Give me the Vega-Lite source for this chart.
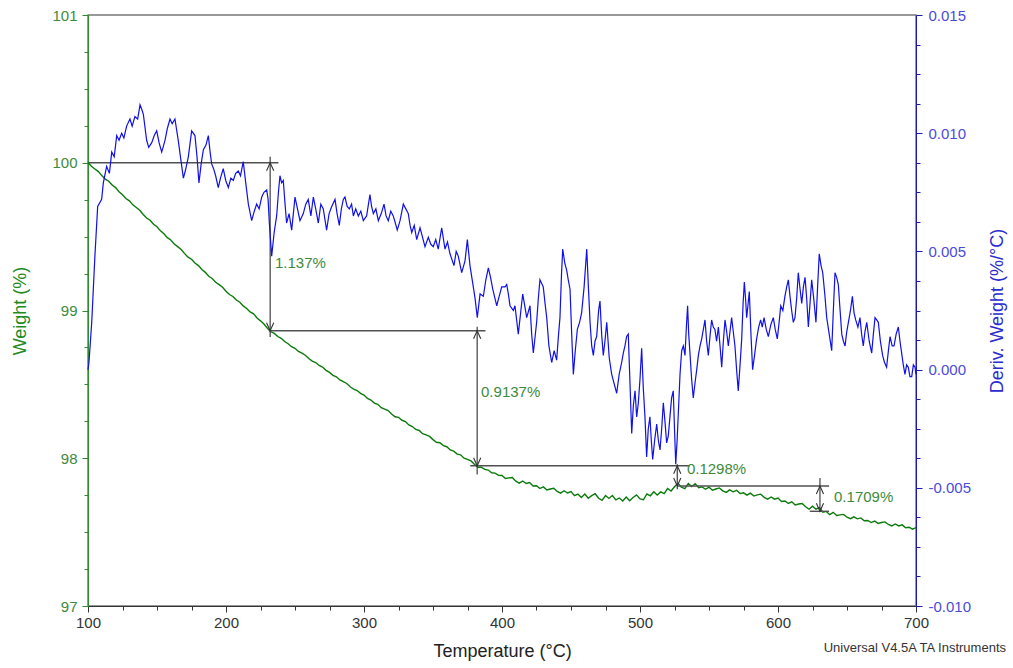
{
"$schema": "https://vega.github.io/schema/vega-lite/v6.json",
"width": 828, "height": 591,
"autosize": {"type": "none"},
"padding": {"left": 88, "top": 15, "right": 97, "bottom": 62},
"background": "white",
"config": {"font": "Liberation Sans", "view": {"stroke": "#777", "strokeWidth": 1.5}},
"title": {"text": "Universal V4.5A TA Instruments", "orient": "bottom", "anchor": "end", "frame": "group", "fontSize": 13, "fontWeight": "normal", "color": "#333", "dx": 90, "dy": -22},
"datasets": {
"tga": [
{"t":100,"w":100.002},{"t":102.5,"w":99.976},{"t":105,"w":99.958},{"t":107.5,"w":99.94},{"t":110,"w":99.913},{"t":112.5,"w":99.889},{"t":115,"w":99.875},{"t":117.5,"w":99.849},{"t":120,"w":99.832},{"t":122.5,"w":99.804},{"t":125,"w":99.784},{"t":127.5,"w":99.758},
{"t":130,"w":99.742},{"t":132.5,"w":99.715},{"t":135,"w":99.697},{"t":137.5,"w":99.678},{"t":140,"w":99.65},{"t":142.5,"w":99.626},{"t":145,"w":99.611},{"t":147.5,"w":99.584},{"t":150,"w":99.567},{"t":152.5,"w":99.539},{"t":155,"w":99.519},{"t":157.5,"w":99.493},
{"t":160,"w":99.477},{"t":162.5,"w":99.45},{"t":165,"w":99.432},{"t":167.5,"w":99.413},{"t":170,"w":99.385},{"t":172.5,"w":99.361},{"t":175,"w":99.347},{"t":177.5,"w":99.321},{"t":180,"w":99.304},{"t":182.5,"w":99.277},{"t":185,"w":99.258},{"t":187.5,"w":99.232},
{"t":190,"w":99.217},{"t":192.5,"w":99.191},{"t":195,"w":99.175},{"t":197.5,"w":99.157},{"t":200,"w":99.13},{"t":202.5,"w":99.108},{"t":205,"w":99.095},{"t":207.5,"w":99.071},{"t":210,"w":99.056},{"t":212.5,"w":99.031},{"t":215,"w":99.014},{"t":217.5,"w":98.99},
{"t":220,"w":98.977},{"t":222.5,"w":98.949},{"t":225,"w":98.93},{"t":227.5,"w":98.909},{"t":230,"w":98.88},{"t":232.5,"w":98.856},{"t":235,"w":98.845},{"t":237.5,"w":98.824},{"t":240,"w":98.812},{"t":242.5,"w":98.79},{"t":245,"w":98.775},{"t":247.5,"w":98.755},
{"t":250,"w":98.744},{"t":252.5,"w":98.723},{"t":255,"w":98.711},{"t":257.5,"w":98.697},{"t":260,"w":98.675},{"t":262.5,"w":98.657},{"t":265,"w":98.648},{"t":267.5,"w":98.628},{"t":270,"w":98.617},{"t":272.5,"w":98.595},{"t":275,"w":98.581},{"t":277.5,"w":98.561},
{"t":280,"w":98.551},{"t":282.5,"w":98.53},{"t":285,"w":98.519},{"t":287.5,"w":98.506},{"t":290,"w":98.484},{"t":292.5,"w":98.467},{"t":295,"w":98.458},{"t":297.5,"w":98.439},{"t":300,"w":98.428},{"t":302.5,"w":98.405},{"t":305,"w":98.394},{"t":307.5,"w":98.373},
{"t":310,"w":98.365},{"t":312.5,"w":98.342},{"t":315,"w":98.333},{"t":317.5,"w":98.323},{"t":320,"w":98.3},{"t":322.5,"w":98.281},{"t":325,"w":98.277},{"t":327.5,"w":98.257},{"t":330,"w":98.248},{"t":332.5,"w":98.225},{"t":335,"w":98.215},{"t":337.5,"w":98.195},
{"t":340,"w":98.188},{"t":342.5,"w":98.166},{"t":345,"w":98.158},{"t":347.5,"w":98.148},{"t":350,"w":98.126},{"t":352.5,"w":98.108},{"t":355,"w":98.105},{"t":357.5,"w":98.086},{"t":360,"w":98.078},{"t":362.5,"w":98.056},{"t":365,"w":98.048},{"t":367.5,"w":98.028},
{"t":370,"w":98.023},{"t":372.5,"w":98.0},{"t":375,"w":97.992},{"t":377.5,"w":97.982},{"t":380,"w":97.959},{"t":382.5,"w":97.939},{"t":385,"w":97.94},{"t":387.5,"w":97.925},{"t":390,"w":97.92},{"t":392.5,"w":97.902},{"t":395,"w":97.899},{"t":397.5,"w":97.884},
{"t":400,"w":97.883},{"t":402.5,"w":97.863},{"t":405,"w":97.867},{"t":407.5,"w":97.87},{"t":410,"w":97.845},{"t":412.5,"w":97.832},{"t":415,"w":97.846},{"t":417.5,"w":97.829},{"t":420,"w":97.836},{"t":422.5,"w":97.812},{"t":425,"w":97.814},{"t":427.5,"w":97.795},
{"t":430,"w":97.806},{"t":432.5,"w":97.785},{"t":435,"w":97.792},{"t":437.5,"w":97.797},{"t":440,"w":97.775},{"t":442.5,"w":97.764},{"t":445,"w":97.78},{"t":447.5,"w":97.765},{"t":450,"w":97.774},{"t":452.5,"w":97.747},{"t":455,"w":97.758},{"t":457.5,"w":97.734},
{"t":460,"w":97.758},{"t":462.5,"w":97.729},{"t":465,"w":97.747},{"t":467.5,"w":97.76},{"t":470,"w":97.729},{"t":472.5,"w":97.715},{"t":475,"w":97.748},{"t":477.5,"w":97.728},{"t":480,"w":97.748},{"t":482.5,"w":97.718},{"t":485,"w":97.731},{"t":487.5,"w":97.711},
{"t":490,"w":97.738},{"t":492.5,"w":97.713},{"t":495,"w":97.734},{"t":497.5,"w":97.752},{"t":500,"w":97.725},{"t":502.5,"w":97.719},{"t":505,"w":97.758},{"t":507.5,"w":97.746},{"t":510,"w":97.773},{"t":512.5,"w":97.751},{"t":515,"w":97.772},{"t":517.5,"w":97.76},
{"t":520,"w":97.795},{"t":522.5,"w":97.778},{"t":525,"w":97.807},{"t":527.5,"w":97.83},{"t":530,"w":97.804},{"t":532.5,"w":97.794},{"t":535,"w":97.829},{"t":537.5,"w":97.809},{"t":540,"w":97.828},{"t":542.5,"w":97.801},{"t":545,"w":97.806},{"t":547.5,"w":97.79},
{"t":550,"w":97.804},{"t":552.5,"w":97.784},{"t":555,"w":97.792},{"t":557.5,"w":97.799},{"t":560,"w":97.779},{"t":562.5,"w":97.769},{"t":565,"w":97.786},{"t":567.5,"w":97.773},{"t":570,"w":97.783},{"t":572.5,"w":97.761},{"t":575,"w":97.766},{"t":577.5,"w":97.75},
{"t":580,"w":97.764},{"t":582.5,"w":97.744},{"t":585,"w":97.752},{"t":587.5,"w":97.757},{"t":590,"w":97.735},{"t":592.5,"w":97.723},{"t":595,"w":97.738},{"t":597.5,"w":97.723},{"t":600,"w":97.731},{"t":602.5,"w":97.708},{"t":605,"w":97.711},{"t":607.5,"w":97.694},
{"t":610,"w":97.705},{"t":612.5,"w":97.684},{"t":615,"w":97.69},{"t":617.5,"w":97.694},{"t":620,"w":97.672},{"t":622.5,"w":97.655},{"t":625,"w":97.676},{"t":627.5,"w":97.655},{"t":630,"w":97.666},{"t":632.5,"w":97.635},{"t":635,"w":97.64},{"t":637.5,"w":97.618},
{"t":640,"w":97.634},{"t":642.5,"w":97.613},{"t":645,"w":97.617},{"t":647.5,"w":97.62},{"t":650,"w":97.601},{"t":652.5,"w":97.591},{"t":655,"w":97.603},{"t":657.5,"w":97.59},{"t":660,"w":97.596},{"t":662.5,"w":97.577},{"t":665,"w":97.579},{"t":667.5,"w":97.565},
{"t":670,"w":97.575},{"t":672.5,"w":97.559},{"t":675,"w":97.565},{"t":677.5,"w":97.569},{"t":680,"w":97.552},{"t":682.5,"w":97.542},{"t":685,"w":97.555},{"t":687.5,"w":97.542},{"t":690,"w":97.549},{"t":692.5,"w":97.53},{"t":695,"w":97.533},{"t":697.5,"w":97.52},{"t":700,"w":97.53}
],
"dtg": [
{"t":100,"d":0.0},{"t":100.7,"d":0.0003},{"t":102.7,"d":0.002},{"t":105,"d":0.0048},{"t":107,"d":0.0069},{"t":109.9,"d":0.0072},{"t":111.1,"d":0.0079},{"t":113.5,"d":0.0086},{"t":115.5,"d":0.0083},{"t":117.2,"d":0.0092},{"t":119,"d":0.009},{"t":120.8,"d":0.0099},
{"t":122.5,"d":0.0097},{"t":124.4,"d":0.01},{"t":126,"d":0.0098},{"t":128,"d":0.0103},{"t":130.4,"d":0.0106},{"t":132,"d":0.0103},{"t":134,"d":0.0107},{"t":136,"d":0.0106},{"t":137.7,"d":0.0112},{"t":139,"d":0.011},{"t":140.1,"d":0.0108},{"t":142.5,"d":0.0097},
{"t":144,"d":0.0094},{"t":146.2,"d":0.0096},{"t":148,"d":0.0099},{"t":149.8,"d":0.0101},{"t":151.5,"d":0.0096},{"t":153.4,"d":0.0092},{"t":155.8,"d":0.0097},{"t":157.5,"d":0.0102},{"t":159.4,"d":0.0106},{"t":161,"d":0.0104},{"t":163,"d":0.0106},{"t":165.4,"d":0.0097},
{"t":167,"d":0.009},{"t":169.1,"d":0.0081},{"t":170.5,"d":0.0084},{"t":172.7,"d":0.009},{"t":175.1,"d":0.0101},{"t":177.5,"d":0.0099},{"t":179,"d":0.009},{"t":180.4,"d":0.0079},{"t":182,"d":0.0087},{"t":183.6,"d":0.0093},{"t":185.5,"d":0.0095},{"t":187.2,"d":0.0099},
{"t":188.5,"d":0.0092},{"t":189.6,"d":0.0087},{"t":191,"d":0.0085},{"t":192.5,"d":0.0082},{"t":194.4,"d":0.0077},{"t":196,"d":0.0081},{"t":198,"d":0.0085},{"t":199.8,"d":0.008},{"t":201.7,"d":0.0077},{"t":203.5,"d":0.0081},{"t":205.3,"d":0.008},{"t":207,"d":0.0083},
{"t":208.9,"d":0.0084},{"t":210.5,"d":0.0082},{"t":212.5,"d":0.0088},{"t":214.3,"d":0.0079},{"t":216.2,"d":0.007},{"t":218.6,"d":0.0063},{"t":220.5,"d":0.0067},{"t":222.2,"d":0.007},{"t":224,"d":0.0068},{"t":225.9,"d":0.0073},{"t":227.5,"d":0.0075},{"t":229.5,"d":0.0076},
{"t":230.5,"d":0.0072},{"t":231.4,"d":0.0062},{"t":233.1,"d":0.0048},{"t":234.9,"d":0.0058},{"t":236.7,"d":0.0065},{"t":238,"d":0.0075},{"t":239.1,"d":0.0082},{"t":240.3,"d":0.0079},{"t":241.5,"d":0.008},{"t":242.8,"d":0.007},{"t":243.9,"d":0.0062},{"t":245.7,"d":0.0066},
{"t":247.6,"d":0.0059},{"t":248.8,"d":0.0066},{"t":250,"d":0.0073},{"t":251.8,"d":0.0068},{"t":253.6,"d":0.0063},{"t":256,"d":0.0066},{"t":257.8,"d":0.007},{"t":259.6,"d":0.0072},{"t":261.5,"d":0.0065},{"t":263.3,"d":0.0073},{"t":265,"d":0.0068},{"t":266.9,"d":0.0062},
{"t":268.7,"d":0.007},{"t":270.5,"d":0.0068},{"t":272.9,"d":0.0059},{"t":274.7,"d":0.0066},{"t":276.6,"d":0.0069},{"t":279,"d":0.0072},{"t":280.5,"d":0.0066},{"t":282.1,"d":0.0061},{"t":283.6,"d":0.0068},{"t":285,"d":0.0072},{"t":286.2,"d":0.0073},{"t":287.8,"d":0.0069},
{"t":289.4,"d":0.0068},{"t":291,"d":0.007},{"t":292.3,"d":0.0065},{"t":294,"d":0.0068},{"t":295.9,"d":0.0065},{"t":297.7,"d":0.0067},{"t":299.5,"d":0.0063},{"t":301.9,"d":0.0065},{"t":304.3,"d":0.0074},{"t":305.5,"d":0.0069},{"t":306.8,"d":0.0066},{"t":308.6,"d":0.0068},
{"t":310.4,"d":0.0063},{"t":312.5,"d":0.0066},{"t":314.5,"d":0.007},{"t":316,"d":0.0065},{"t":317.6,"d":0.0063},{"t":319.4,"d":0.0067},{"t":321.2,"d":0.0065},{"t":322.7,"d":0.0062},{"t":324.1,"d":0.0059},{"t":326.1,"d":0.0063},{"t":328.5,"d":0.007},{"t":330.3,"d":0.0068},
{"t":332.1,"d":0.0066},{"t":333.4,"d":0.0061},{"t":334.6,"d":0.0058},{"t":336.4,"d":0.0061},{"t":338.2,"d":0.0055},{"t":340.6,"d":0.006},{"t":342.4,"d":0.0056},{"t":344.2,"d":0.0052},{"t":346.6,"d":0.0056},{"t":348.4,"d":0.0053},{"t":350.2,"d":0.0052},{"t":352,"d":0.0055},
{"t":353.8,"d":0.0051},{"t":356.3,"d":0.006},{"t":358.7,"d":0.0051},{"t":360.5,"d":0.0054},{"t":362.3,"d":0.0049},{"t":365.2,"d":0.0044},{"t":366.8,"d":0.005},{"t":368.3,"d":0.0048},{"t":370.8,"d":0.0041},{"t":373.2,"d":0.0046},{"t":374.9,"d":0.0055},{"t":376.8,"d":0.0044},
{"t":379.2,"d":0.0035},{"t":380.5,"d":0.003},{"t":382.1,"d":0.0022},{"t":384.1,"d":0.0032},{"t":386.5,"d":0.0031},{"t":388.3,"d":0.0038},{"t":390.1,"d":0.0043},{"t":391.7,"d":0.0039},{"t":393.3,"d":0.0034},{"t":396.2,"d":0.0027},{"t":397.5,"d":0.003},{"t":399.8,"d":0.0035},
{"t":402.2,"d":0.0035},{"t":403.4,"d":0.0036},{"t":404.6,"d":0.0032},{"t":405.8,"d":0.0027},{"t":408.2,"d":0.0025},{"t":409.4,"d":0.0027},{"t":411.8,"d":0.0015},{"t":413.5,"d":0.0024},{"t":415,"d":0.0032},{"t":416.5,"d":0.0027},{"t":417.9,"d":0.0022},{"t":420.3,"d":0.0027},
{"t":421.5,"d":0.0015},{"t":422.7,"d":0.0007},{"t":425.1,"d":0.002},{"t":426.3,"d":0.003},{"t":427.5,"d":0.0038},{"t":429.9,"d":0.0035},{"t":431.2,"d":0.0028},{"t":432.4,"d":0.0022},{"t":434,"d":0.001},{"t":436,"d":0.0003},{"t":437.8,"d":0.0008},{"t":439.6,"d":0.0004},
{"t":441,"d":0.0015},{"t":442,"d":0.0022},{"t":443.1,"d":0.004},{"t":444,"d":0.0051},{"t":445.5,"d":0.0045},{"t":446.9,"d":0.0042},{"t":448,"d":0.0038},{"t":449.3,"d":0.0034},{"t":450.5,"d":0.0015},{"t":451.7,"d":-0.0002},{"t":453.1,"d":0.0008},{"t":454.6,"d":0.0017},
{"t":456.2,"d":0.002},{"t":457.7,"d":0.0024},{"t":459.5,"d":0.0035},{"t":461.4,"d":0.0051},{"t":462.6,"d":0.0035},{"t":463.8,"d":0.002},{"t":465,"d":0.001},{"t":466.2,"d":0.0006},{"t":467.4,"d":0.0012},{"t":468.6,"d":0.0014},{"t":470,"d":0.0025},{"t":471,"d":0.0029},
{"t":472.2,"d":0.0015},{"t":473.4,"d":0.0006},{"t":474.6,"d":0.0012},{"t":475.9,"d":0.002},{"t":477.7,"d":0.0005},{"t":479.5,"d":-0.0002},{"t":481.3,"d":-0.0006},{"t":483.1,"d":-0.001},{"t":484.9,"d":-0.0002},{"t":486.7,"d":0.0003},{"t":487.9,"d":0.0007},{"t":489.1,"d":0.001},
{"t":490.3,"d":0.0014},{"t":491.5,"d":0.0015},{"t":492.7,"d":-0.0005},{"t":494,"d":-0.0027},{"t":495.2,"d":-0.0015},{"t":496.4,"d":-0.0009},{"t":497.6,"d":-0.002},{"t":498.8,"d":-0.0014},{"t":500,"d":-0.0004},{"t":501.2,"d":0.0009},{"t":502.4,"d":-0.0008},{"t":503.6,"d":-0.002},
{"t":504.8,"d":-0.0037},{"t":506,"d":-0.0025},{"t":507.2,"d":-0.002},{"t":508.2,"d":-0.003},{"t":509.2,"d":-0.0038},{"t":510.6,"d":-0.003},{"t":512.1,"d":-0.0023},{"t":513.3,"d":-0.003},{"t":514.5,"d":-0.0034},{"t":515.7,"d":-0.0025},{"t":516.9,"d":-0.0014},{"t":518.1,"d":-0.0022},
{"t":519.3,"d":-0.0031},{"t":520.5,"d":-0.0028},{"t":521.7,"d":-0.002},{"t":522.9,"d":-0.0012},{"t":524.1,"d":-0.0009},{"t":525,"d":-0.0025},{"t":525.9,"d":-0.004},{"t":526.9,"d":-0.003},{"t":527.8,"d":-0.0018},{"t":529,"d":-0.0002},{"t":530.2,"d":0.0008},{"t":531.4,"d":0.001},
{"t":532.6,"d":0.0006},{"t":533.6,"d":0.0018},{"t":534.5,"d":0.0027},{"t":535.3,"d":0.0015},{"t":536.2,"d":0.0007},{"t":537.4,"d":-0.0004},{"t":538.6,"d":-0.0012},{"t":539.8,"d":-0.0006},{"t":541.1,"d":0.0},{"t":542.3,"d":0.0006},{"t":543.5,"d":0.001},{"t":544.7,"d":0.0013},
{"t":545.9,"d":0.0017},{"t":547.1,"d":0.0021},{"t":548.3,"d":0.0012},{"t":549.5,"d":0.0006},{"t":550.7,"d":0.0014},{"t":551.9,"d":0.0021},{"t":553.1,"d":0.0018},{"t":554.3,"d":0.0017},{"t":555.5,"d":0.0012},{"t":556.8,"d":0.0018},{"t":558,"d":0.001},{"t":559.2,"d":0.0001},
{"t":560.4,"d":0.0012},{"t":561.6,"d":0.0021},{"t":562.8,"d":0.0016},{"t":564,"d":0.001},{"t":565.2,"d":0.0016},{"t":566.4,"d":0.0022},{"t":567.6,"d":0.0016},{"t":568.8,"d":0.001},{"t":570,"d":0.0},{"t":571.2,"d":-0.0009},{"t":572.5,"d":0.0002},{"t":573.7,"d":0.0013},
{"t":574.7,"d":0.0028},{"t":575.6,"d":0.0037},{"t":576.5,"d":0.003},{"t":577.3,"d":0.0022},{"t":578.2,"d":0.0027},{"t":579.2,"d":0.0033},{"t":580.4,"d":0.0015},{"t":581.6,"d":0.0},{"t":583,"d":0.0006},{"t":584.5,"d":0.0013},{"t":586,"d":0.0018},{"t":587.4,"d":0.0021},
{"t":588.6,"d":0.0018},{"t":589.9,"d":0.0022},{"t":591.5,"d":0.0017},{"t":593,"d":0.0014},{"t":594.8,"d":0.0019},{"t":596.6,"d":0.0022},{"t":598,"d":0.0017},{"t":599.5,"d":0.0013},{"t":600.8,"d":0.002},{"t":602,"d":0.0027},{"t":603.5,"d":0.0025},{"t":605,"d":0.0031},
{"t":606.3,"d":0.0035},{"t":607.5,"d":0.0038},{"t":608.7,"d":0.0031},{"t":609.9,"d":0.0025},{"t":611.1,"d":0.002},{"t":612.3,"d":0.0022},{"t":613.5,"d":0.003},{"t":614.7,"d":0.0041},{"t":616,"d":0.0034},{"t":617.2,"d":0.0028},{"t":618.4,"d":0.0035},{"t":619.6,"d":0.0039},
{"t":620.8,"d":0.003},{"t":622,"d":0.0018},{"t":623.2,"d":0.0028},{"t":624.4,"d":0.0038},{"t":625.9,"d":0.003},{"t":627.5,"d":0.002},{"t":628.7,"d":0.0035},{"t":629.9,"d":0.0049},{"t":631.2,"d":0.0044},{"t":632.4,"d":0.0041},{"t":633.9,"d":0.0032},{"t":635.3,"d":0.0022},
{"t":637.1,"d":0.0015},{"t":638.9,"d":0.0008},{"t":640.1,"d":0.0025},{"t":641.3,"d":0.0041},{"t":642.5,"d":0.0039},{"t":643.7,"d":0.0036},{"t":645,"d":0.0025},{"t":646.2,"d":0.0015},{"t":647.4,"d":0.0012},{"t":648.6,"d":0.001},{"t":649.8,"d":0.0016},{"t":651,"d":0.002},
{"t":652.5,"d":0.0025},{"t":653.9,"d":0.0031},{"t":655.1,"d":0.0024},{"t":656.3,"d":0.0021},{"t":657.9,"d":0.0018},{"t":659.4,"d":0.0022},{"t":660.6,"d":0.0015},{"t":661.8,"d":0.001},{"t":663,"d":0.0016},{"t":664.3,"d":0.002},{"t":666.1,"d":0.0012},{"t":667.9,"d":0.0007},
{"t":669.1,"d":0.0015},{"t":670.3,"d":0.0022},{"t":671.5,"d":0.0021},{"t":672.7,"d":0.002},{"t":674.2,"d":0.0012},{"t":675.8,"d":0.0006},{"t":677.2,"d":0.0003},{"t":678.7,"d":0.0001},{"t":680,"d":0.0008},{"t":681.2,"d":0.0014},{"t":682.7,"d":0.001},{"t":684.1,"d":0.001},
{"t":685.6,"d":0.0015},{"t":687.2,"d":0.0018},{"t":688.4,"d":0.0012},{"t":689.6,"d":0.0007},{"t":690.8,"d":0.0002},{"t":692,"d":-0.0002},{"t":693.2,"d":0.0002},{"t":694.4,"d":0.0001},{"t":695.6,"d":-0.0003},{"t":696.9,"d":-0.0003},{"t":698.1,"d":0.0002},{"t":699.3,"d":0.0001},{"t":700,"d":-0.0002}
],
"hl": [
{"t":100.7,"t2":238,"w":100.0},{"t":231,"t2":388,"w":98.863},{"t":377,"t2":536,"w":97.949},{"t":527,"t2":637,"w":97.812},{"t":623,"t2":637,"w":97.641}
],
"vl": [
{"t":232,"w":100.04,"w2":98.82},{"t":382,"w":98.89,"w2":97.89},{"t":527,"w":97.96,"w2":97.79},{"t":630.4,"w":97.866,"w2":97.636}
],
"arr": [
{"t":232,"w":100.0,"dir":"up"},{"t":232,"w":98.863,"dir":"down"},
{"t":382,"w":98.863,"dir":"up"},{"t":382,"w":97.949,"dir":"down"},
{"t":527,"w":97.949,"dir":"up"},{"t":527,"w":97.812,"dir":"down"},
{"t":630.4,"w":97.812,"dir":"up"},{"t":630.4,"w":97.641,"dir":"down"}
],
"lab": [
{"t":235.5,"w":99.32,"label":"1.137%"},{"t":384.8,"w":98.45,"label":"0.9137%"},{"t":534,"w":97.93,"label":"0.1298%"},{"t":640.6,"w":97.74,"label":"0.1709%"}
]
},
"encoding": {
"x": {"field": "t", "type": "quantitative", "scale": {"domain": [100, 700], "nice": false, "zero": false},
 "axis": {"title": "Temperature (°C)", "titleFontSize": 18, "titleFontWeight": "normal", "titleColor": "#222", "titlePadding": 12,
  "values": [100,125,150,175,200,225,250,275,300,325,350,375,400,425,450,475,500,525,550,575,600,625,650,675,700],
  "labelExpr": "datum.value % 100 == 0 ? format(datum.value, 'd') : ''",
  "labelFontSize": 15, "labelColor": "#333", "labelPadding": 3, "labelFlush": false, "labelOverlap": false,
  "tickSize": {"condition": {"test": "datum.value % 100 == 0", "value": 6}, "value": 4},
  "domainColor": "#333", "tickColor": "#333", "grid": false}}
},
"layer": [
{
 "encoding": {
  "y": {"field": "w", "type": "quantitative", "scale": {"domain": [97, 101], "nice": false, "zero": false},
   "axis": {"orient": "left", "title": "Weight (%)", "titleFontSize": 18, "titleFontWeight": "normal", "titleColor": "#1f8a1f", "titlePadding": 22,
    "values": [97,97.25,97.5,97.75,98,98.25,98.5,98.75,99,99.25,99.5,99.75,100,100.25,100.5,100.75,101],
    "labelExpr": "datum.value % 1 == 0 ? format(datum.value, 'd') : ''",
    "labelFontSize": 15, "labelColor": "#3d8a3d", "labelPadding": 5, "labelFlush": false, "labelOverlap": false,
    "tickSize": {"condition": {"test": "datum.value % 1 == 0", "value": 6}, "value": 4},
    "domainColor": "#2e8b2e", "tickColor": "#2e8b2e", "grid": false}}
 },
 "layer": [
  {"data": {"name": "tga"}, "mark": {"type": "line", "color": "#0a7a0a", "strokeWidth": 1.4}},
  {"data": {"name": "hl"}, "mark": {"type": "rule", "color": "#505050", "strokeWidth": 1.4}, "encoding": {"x2": {"field": "t2"}}},
  {"data": {"name": "vl"}, "mark": {"type": "rule", "color": "#404040", "strokeWidth": 1.2}, "encoding": {"y2": {"field": "w2"}}},
  {"data": {"name": "arr"}, "mark": {"type": "point", "filled": false, "size": 64, "stroke": "#333", "strokeWidth": 1.1, "opacity": 1},
   "encoding": {"shape": {"field": "dir", "type": "nominal", "scale": {"domain": ["up", "down"], "range": ["M-0.9,2L0,0L0.9,2", "M-0.9,-2L0,0L0.9,-2"]}, "legend": null}}},
  {"data": {"name": "lab"}, "mark": {"type": "text", "align": "left", "baseline": "middle", "fontSize": 15, "color": "#3d8a3d"},
   "encoding": {"text": {"field": "label"}}}
 ]
},
{
 "data": {"name": "dtg"},
 "mark": {"type": "line", "color": "#1010e8", "strokeWidth": 1.2},
 "encoding": {
  "y": {"field": "d", "type": "quantitative", "scale": {"domain": [-0.01, 0.015], "nice": false, "zero": false},
   "axis": {"orient": "right", "title": "Deriv. Weight (%/°C)", "titleAngle": -90, "titleFontSize": 18, "titleFontWeight": "normal", "titleColor": "#2b2bd0", "titlePadding": 36,
    "values": [-0.01,-0.00875,-0.0075,-0.00625,-0.005,-0.00375,-0.0025,-0.00125,0,0.00125,0.0025,0.00375,0.005,0.00625,0.0075,0.00875,0.01,0.01125,0.0125,0.01375,0.015],
    "labelExpr": "abs(datum.value*200 - round(datum.value*200)) < 0.001 ? replace(format(datum.value, '.3f'), '\u2212', '-') : ''",
    "labelFontSize": 15, "labelColor": "#4b4bdc", "labelPadding": 6, "labelFlush": false, "labelOverlap": false,
    "tickSize": {"condition": {"test": "abs(datum.value*200 - round(datum.value*200)) < 0.001", "value": 6}, "value": 4},
    "domainColor": "#1a1ab4", "tickColor": "#1a1ab4", "grid": false}}
 }
}
],
"resolve": {"scale": {"y": "independent"}, "axis": {"y": "independent"}}
}
